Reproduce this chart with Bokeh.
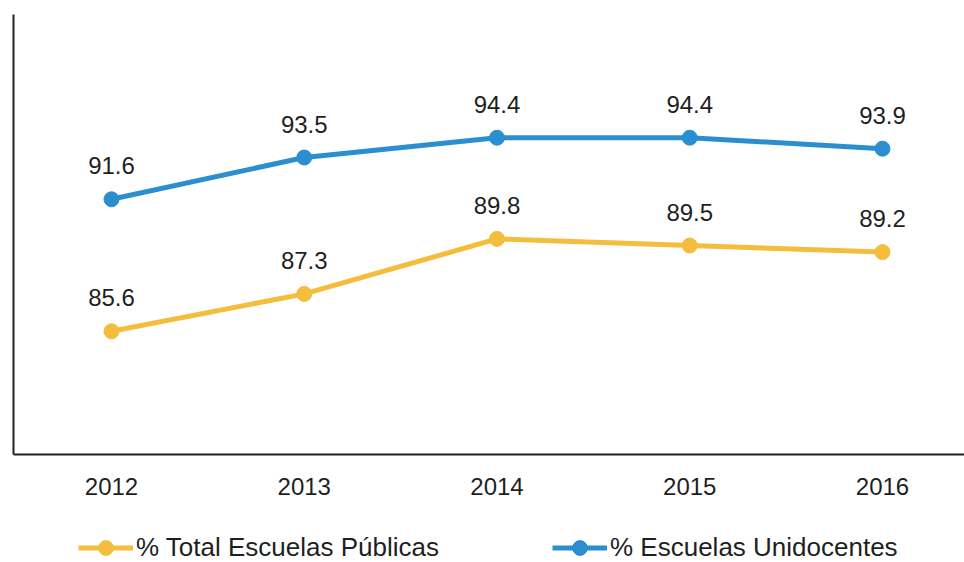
from bokeh.plotting import figure
from bokeh.layouts import column
from bokeh.models import (Range1d, FixedTicker, Legend, LegendItem, LabelSet,
                          ColumnDataSource)
from bokeh.core.properties import value
from bokeh.embed import file_html
from bokeh.resources import INLINE

years = [2012, 2013, 2014, 2015, 2016]
total_publicas = [85.6, 87.3, 89.8, 89.5, 89.2]
unidocentes = [91.6, 93.5, 94.4, 94.4, 93.9]
name_total = "% Total Escuelas Públicas"
name_uni = "% Escuelas Unidocentes"

YELLOW = "#F5BD3C"
BLUE = "#2B8FCF"
TXT = "#1f1f1f"
FONT = "Liberation Sans"

p = figure(width=964, height=514, output_backend="svg", toolbar_location=None,
           x_range=Range1d(2011.4916, 2016.4255), y_range=Range1d(80, 100),
           min_border_left=13, min_border_top=14, min_border_right=0,
           min_border_bottom=60)
p.outline_line_color = None
p.xgrid.visible = False
p.ygrid.visible = False
p.background_fill_color = "white"
p.border_fill_color = "white"

# x axis
p.xaxis.ticker = FixedTicker(ticks=years)
p.xaxis.major_tick_line_color = None
p.xaxis.minor_tick_line_color = None
p.xaxis.major_tick_out = 0
p.xaxis.minor_tick_out = 0
p.xaxis.major_label_standoff = 23
p.xaxis.major_label_text_font = FONT
p.xaxis.major_label_text_font_size = "24px"
p.xaxis.major_label_text_color = TXT
p.xaxis.axis_line_color = "#222222"
p.xaxis.axis_line_width = 2

# y axis: line only
p.yaxis.ticker = FixedTicker(ticks=[])
p.yaxis.major_tick_line_color = None
p.yaxis.minor_tick_line_color = None
p.yaxis.major_tick_out = 0
p.yaxis.minor_tick_out = 0
p.yaxis.major_label_standoff = 0
p.yaxis.axis_line_color = "#222222"
p.yaxis.axis_line_width = 2

src_t = ColumnDataSource(dict(x=years, y=total_publicas,
                              t=[f"{v:.1f}" for v in total_publicas]))
src_u = ColumnDataSource(dict(x=years, y=unidocentes,
                              t=[f"{v:.1f}" for v in unidocentes]))

p.line("x", "y", source=src_t, line_color=YELLOW, line_width=5)
p.scatter("x", "y", source=src_t, size=15, fill_color=YELLOW, line_color=YELLOW)
p.line("x", "y", source=src_u, line_color=BLUE, line_width=5)
p.scatter("x", "y", source=src_u, size=15, fill_color=BLUE, line_color=BLUE)

for src in (src_t, src_u):
    labels = LabelSet(x="x", y="y", text="t", source=src, y_offset=25,
                      text_align="center", text_baseline="alphabetic",
                      text_font=value(FONT), text_font_size=value("24px"),
                      text_color=value(TXT))
    p.add_layout(labels)

# legend strip below the chart (proxy renderers sit outside the visible range)
lf = figure(width=964, height=48, output_backend="svg", toolbar_location=None,
            x_axis_location=None, y_axis_location=None,
            min_border=0, x_range=Range1d(0, 1), y_range=Range1d(0, 1))
lf.outline_line_color = None
lf.xgrid.visible = False
lf.ygrid.visible = False
off = [-10]
lgt = lf.line(x=off, y=off, line_color=YELLOW, line_width=5)
lgts = lf.scatter(x=off, y=off, size=15, fill_color=YELLOW, line_color=YELLOW)
lgu = lf.line(x=off, y=off, line_color=BLUE, line_width=5)
lgus = lf.scatter(x=off, y=off, size=15, fill_color=BLUE, line_color=BLUE)

legend = Legend(items=[LegendItem(label=name_total, renderers=[lgt, lgts]),
                       LegendItem(label=name_uni, renderers=[lgu, lgus])],
                location=(65, -4), orientation="horizontal",
                glyph_width=55, glyph_height=37, label_height=22,
                label_standoff=3, padding=0, margin=0, spacing=113,
                label_text_font=FONT, label_text_font_size="26px",
                label_text_color=TXT, background_fill_alpha=0,
                border_line_color=None)
lf.add_layout(legend, "center")

open("out.html", "w").write(file_html(column(p, lf), INLINE))
